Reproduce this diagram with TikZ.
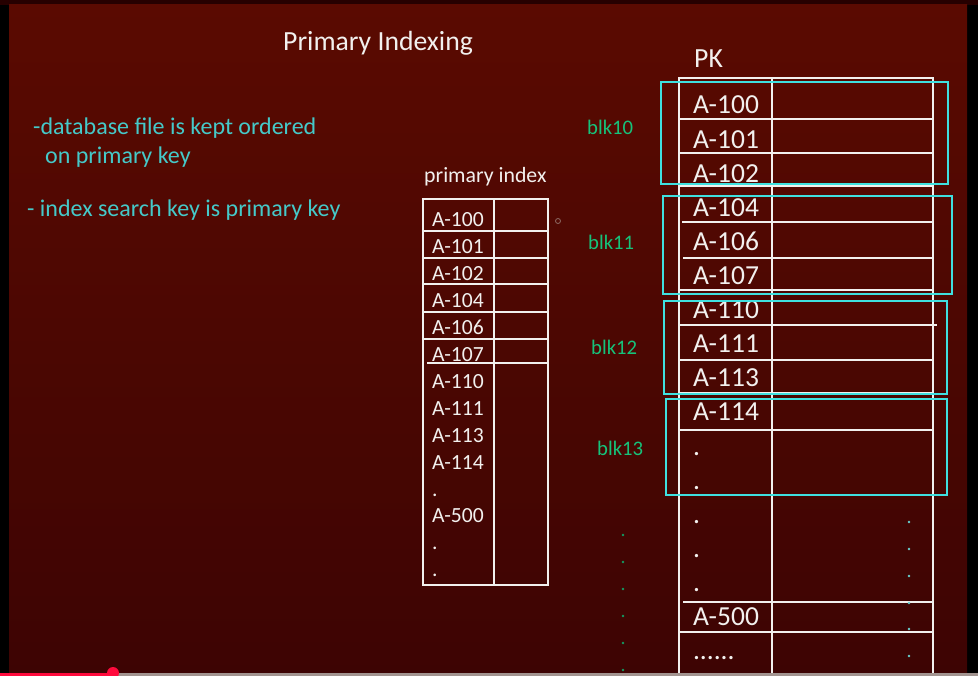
\documentclass[tikz,border=0pt]{standalone}
\usepackage{fontspec}
\setmainfont{Carlito}
\usepackage{xcolor}
\usetikzlibrary{positioning}

\definecolor{bgtop}{HTML}{5A0A01}
\definecolor{bgbot}{HTML}{3D0403}
\definecolor{notecyan}{HTML}{45C9C9}
\definecolor{blkcyan}{HTML}{3FE0E0}
\definecolor{blkgreen}{HTML}{16C27A}
\definecolor{chalk}{HTML}{F2F0EE}
\definecolor{barred}{HTML}{FF0A3C}
\definecolor{bargray}{HTML}{A29490}

\begin{document}
\begin{tikzpicture}[
  x=1pt, y=-1pt,
  title/.style={font=\fontsize{27.7}{30}\selectfont, text=chalk, inner sep=0pt, anchor=base west},
  note/.style={font=\fontsize{24}{26}\selectfont, text=notecyan, inner sep=0pt, anchor=base west},
  head/.style={font=\fontsize{21.8}{24}\selectfont, text=chalk, inner sep=0pt, anchor=base west},
  idx/.style={font=\fontsize{21.6}{24}\selectfont, text=chalk, inner sep=0pt, outer sep=0pt, text width=56pt, align=left, text height=15pt, text depth=5pt},
  pk/.style={font=\fontsize{27.5}{30}\selectfont, text=chalk, inner sep=0pt, outer sep=0pt, text width=72pt, align=left, text height=20pt, text depth=6pt},
  blk/.style={font=\fontsize{20.7}{24}\selectfont, text=blkgreen, inner sep=0pt, anchor=base west},
  grid/.style={draw=chalk, line width=1.8pt},
  blkbox/.style={draw=blkcyan, line width=2.8pt},
  dot/.style={fill=#1, circle, inner sep=0pt, minimum size=2.6pt}
]
\useasboundingbox (0,0) rectangle (978,676);
\clip (0,0) rectangle (978,676);

% screen and slide background
\fill[black] (0,0) rectangle (978,676);
\fill[black!85!red] (0,0) rectangle (978,5);
\shade[top color=bgtop, bottom color=bgbot] (9,5) rectangle (967,676);

% texts on the left
\node[title] (ttl) at (283,51) {Primary Indexing};
\node[note] (n1) at (33,135) {-database file is kept ordered};
\node[note] (n2) at (45,164) {on primary key};
\node[note] (n3) at (27,217) {- index search key is primary key};

% primary index
\node[head] (ihead) at (424,183) {primary index};
\draw[grid] (423,199) rectangle (548,585);
\draw[grid] (494,199) -- (494,585);
\draw[grid] (423,231) -- (548,231);
\draw[grid] (423,258) -- (548,258);
\draw[grid] (423,284) -- (548,284);
\draw[grid] (423,312) -- (548,312);
\draw[grid] (423,339) -- (548,339);
\draw[grid] (427,363) -- (548,363);

\begin{scope}[node distance=6.9pt]
\node[idx, anchor=base west] (i100) at (432,227) {A-100};
\node[idx, below=of i100] (i101) {A-101};
\node[idx, below=of i101] (i102) {A-102};
\node[idx, below=of i102] (i104) {A-104};
\node[idx, below=of i104] (i106) {A-106};
\node[idx, below=of i106] (i107) {A-107};
\node[idx, below=of i107] (i110) {A-110};
\node[idx, below=of i110] (i111) {A-111};
\node[idx, below=of i111] (i113) {A-113};
\node[idx, below=of i113] (i114) {A-114};
\node[idx, below=of i114] (idot1) {.};
\node[idx, below=of idot1] (i500) {A-500};
\node[idx, below=of i500] (idot2) {.};
\node[idx, below=of idot2] (idot3) {.};
\end{scope}

\draw[bargray!70!bgtop, line width=0.8pt] (558,221) circle (2.5);

% data file ordered on PK
\node[title] (pkhead) at (694,68) {PK};
\draw[grid] (679,690) -- (679,78) -- (933,78) -- (933,690);
\draw[grid] (772,78) -- (772,690);
\draw[grid] (679,119) -- (933,119);
\draw[grid] (679,153) -- (933,153);
\draw[grid] (679,186) -- (933,186);
\draw[grid] (682,222) -- (933,222);
\draw[grid] (683,258) -- (933,258);
\draw[grid] (679,290) -- (933,290);
\draw[grid] (679,325) -- (937,325);
\draw[grid] (679,360) -- (933,360);
\draw[grid] (679,393) -- (933,393);
\draw[grid] (679,430) -- (933,430);
\draw[grid] (683,602) -- (933,602);
\draw[grid] (679,632) -- (933,632);

\begin{scope}[node distance=8.1pt]
\node[pk, anchor=base west] (p100) at (693,114) {A-100};
\node[pk, below=of p100] (p101) {A-101};
\node[pk, below=of p101] (p102) {A-102};
\node[pk, below=of p102] (p104) {A-104};
\node[pk, below=of p104] (p106) {A-106};
\node[pk, below=of p106] (p107) {A-107};
\node[pk, below=of p107] (p110) {A-110};
\node[pk, below=of p110] (p111) {A-111};
\node[pk, below=of p111] (p113) {A-113};
\node[pk, below=of p113] (p114) {A-114};
\node[pk, below=of p114] (pdot1) {.};
\node[pk, below=of pdot1] (pdot2) {.};
\node[pk, below=of pdot2] (pdot3) {.};
\node[pk, below=of pdot3] (pdot4) {.};
\node[pk, below=of pdot4] (pdot5) {.};
\node[pk, below=of pdot5] (p500) {A-500};
\node[pk, below=of p500] (pmore) {......};
\end{scope}

% blocks
\draw[blkbox] (661,82) rectangle (948,184);
\draw[blkbox] (663,196) rectangle (952,294);
\draw[blkbox] (664,301) rectangle (947,394);
\draw[blkbox] (666,399) rectangle (947,495);
\node[blk] (b10) at (587,135) {blk10};
\node[blk] (b11) at (588,250) {blk11};
\node[blk] (b12) at (591,355) {blk12};
\node[blk] (b13) at (597,456) {blk13};

% dotted continuation
\node[dot=blkgreen!80!black] (g1) at (623,535) {};
\node[dot=blkgreen!80!black] (g2) at (623,562) {};
\node[dot=blkgreen!80!black] (g3) at (623,589) {};
\node[dot=blkgreen!80!black] (g4) at (623,616) {};
\node[dot=blkgreen!80!black] (g5) at (623,643) {};
\node[dot=blkgreen!80!black] (g6) at (623,670) {};
\node[dot=notecyan!80!chalk] (c1) at (909,522) {};
\node[dot=notecyan!80!chalk] (c2) at (909,549) {};
\node[dot=notecyan!80!chalk] (c3) at (909,576) {};
\node[dot=notecyan!80!chalk] (c4) at (909,603) {};
\node[dot=notecyan!80!chalk] (c5) at (909,629) {};
\node[dot=notecyan!80!chalk] (c6) at (909,656) {};

% player progress bar
\fill[bargray] (0,673) rectangle (978,676);
\fill[barred] (0,673) rectangle (113,676);
\fill[barred] (113,673) circle (6);
\end{tikzpicture}
\end{document}
